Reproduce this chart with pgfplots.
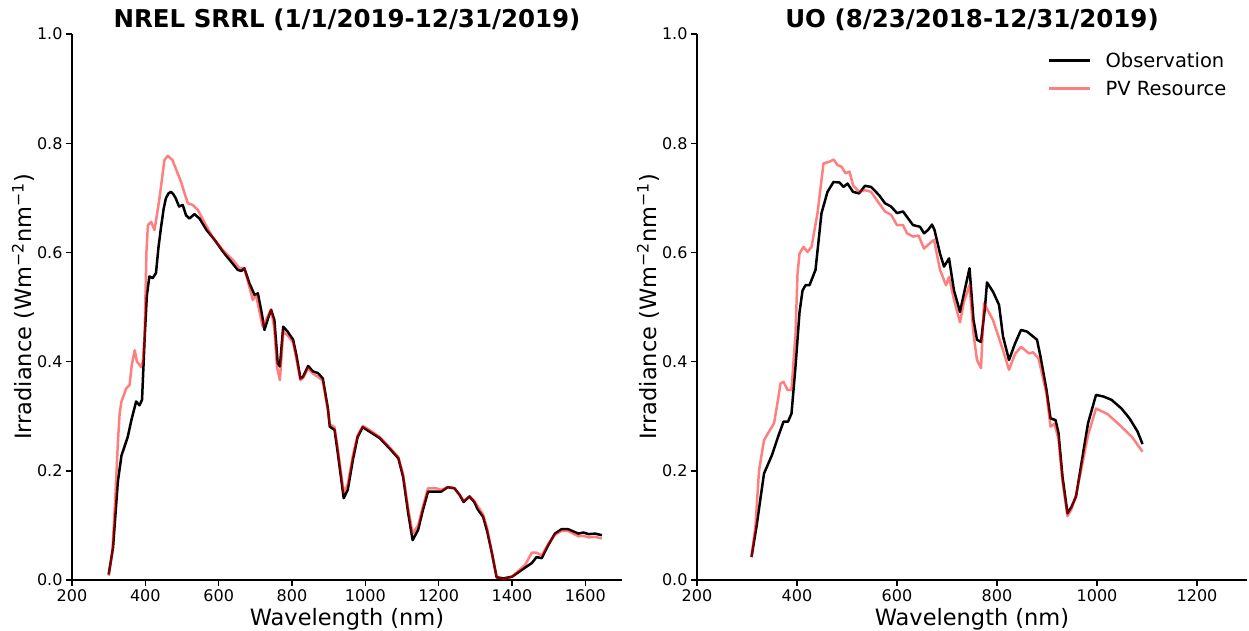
\documentclass[border=0pt]{standalone}
\usepackage{fontspec}
\setmainfont{DejaVu Sans}
\usepackage{pgfplots}
\pgfplotsset{compat=1.18}

% observation / pv resource, left panel (NREL SRRL)
\pgfplotstableread{
nm v
300 0.010
312 0.060
325 0.180
335 0.228
352 0.262
362 0.293
375 0.327
384 0.320
391 0.330
398 0.440
404 0.520
411 0.556
420 0.553
429 0.562
436 0.610
443 0.647
450 0.680
456 0.699
463 0.708
470 0.711
477 0.706
483 0.699
492 0.684
502 0.687
511 0.668
520 0.662
534 0.670
548 0.662
567 0.641
589 0.623
612 0.601
634 0.583
652 0.568
662 0.566
670 0.571
684 0.543
698 0.522
707 0.525
717 0.490
725 0.458
735 0.480
743 0.495
752 0.476
761 0.397
767 0.391
776 0.464
788 0.455
803 0.440
812 0.412
823 0.369
830 0.372
844 0.392
857 0.382
871 0.379
884 0.369
898 0.314
903 0.281
916 0.275
925 0.232
941 0.150
952 0.165
966 0.220
979 0.262
993 0.280
1011 0.272
1039 0.260
1066 0.241
1090 0.223
1103 0.189
1117 0.122
1129 0.073
1144 0.092
1157 0.128
1171 0.162
1193 0.162
1207 0.162
1225 0.170
1243 0.168
1257 0.156
1268 0.143
1284 0.153
1297 0.143
1306 0.130
1321 0.116
1332 0.090
1345 0.050
1358 0.005
1377 0.003
1400 0.006
1413 0.012
1436 0.023
1454 0.031
1467 0.042
1481 0.040
1499 0.064
1517 0.085
1535 0.093
1553 0.093
1567 0.089
1581 0.085
1595 0.087
1609 0.084
1627 0.085
1645 0.082
}\srrlobs

\pgfplotstableread{
nm v
300 0.008
310 0.050
318 0.150
325 0.250
330 0.306
335 0.327
348 0.351
357 0.357
363 0.394
371 0.421
377 0.400
389 0.390
393 0.400
398 0.446
403 0.600
407 0.650
416 0.656
425 0.641
438 0.696
452 0.769
461 0.777
474 0.769
488 0.745
497 0.730
507 0.708
516 0.690
529 0.687
543 0.678
562 0.654
585 0.626
612 0.604
639 0.586
657 0.571
670 0.571
679 0.549
693 0.513
702 0.522
720 0.464
743 0.495
752 0.460
759 0.390
767 0.366
776 0.455
788 0.448
803 0.435
812 0.405
823 0.366
830 0.370
844 0.388
857 0.378
871 0.372
884 0.365
898 0.310
903 0.285
916 0.280
925 0.240
941 0.160
952 0.175
966 0.228
979 0.265
993 0.282
1011 0.275
1039 0.262
1066 0.243
1090 0.225
1103 0.193
1117 0.130
1129 0.085
1144 0.100
1157 0.135
1171 0.168
1193 0.168
1207 0.165
1225 0.170
1243 0.168
1257 0.156
1268 0.145
1284 0.153
1297 0.145
1321 0.120
1332 0.095
1345 0.050
1358 0.005
1377 0.002
1400 0.006
1413 0.014
1436 0.028
1454 0.050
1467 0.050
1481 0.045
1499 0.066
1517 0.083
1535 0.090
1553 0.090
1567 0.085
1581 0.080
1595 0.081
1609 0.078
1627 0.079
1645 0.076
}\srrlpv

% right panel (UO)
\pgfplotstableread{
nm v
309 0.042
319 0.098
334 0.195
350 0.229
362 0.262
373 0.290
382 0.290
389 0.305
397 0.391
405 0.490
411 0.530
417 0.540
425 0.540
437 0.568
449 0.672
461 0.711
473 0.729
485 0.728
493 0.720
501 0.726
512 0.711
524 0.708
536 0.722
548 0.720
564 0.705
576 0.690
588 0.684
600 0.672
612 0.675
620 0.665
632 0.650
646 0.647
654 0.635
662 0.641
670 0.651
675 0.641
686 0.598
694 0.574
704 0.589
714 0.530
726 0.491
734 0.525
745 0.571
753 0.476
760 0.440
768 0.436
776 0.500
780 0.545
792 0.528
804 0.504
812 0.446
824 0.403
836 0.433
848 0.458
860 0.455
868 0.449
880 0.440
887 0.409
899 0.348
907 0.296
917 0.293
923 0.269
931 0.189
941 0.122
949 0.134
958 0.153
970 0.220
982 0.287
998 0.339
1013 0.336
1029 0.330
1049 0.314
1065 0.296
1081 0.272
1091 0.249
}\uoobs

\pgfplotstableread{
nm v
309 0.042
317 0.100
324 0.200
334 0.256
346 0.275
354 0.287
362 0.330
367 0.360
373 0.363
381 0.348
389 0.348
397 0.452
401 0.560
405 0.598
413 0.610
421 0.601
429 0.610
441 0.672
453 0.763
465 0.766
473 0.770
481 0.760
489 0.757
497 0.745
505 0.748
512 0.723
524 0.711
536 0.714
548 0.711
564 0.690
576 0.675
588 0.669
600 0.650
612 0.650
620 0.635
632 0.629
643 0.631
654 0.607
666 0.617
674 0.623
686 0.568
698 0.540
704 0.555
714 0.513
726 0.472
734 0.510
745 0.540
753 0.450
760 0.403
768 0.388
774 0.507
792 0.476
812 0.421
824 0.385
836 0.414
848 0.427
864 0.415
872 0.417
883 0.406
899 0.341
907 0.281
915 0.286
923 0.258
931 0.180
941 0.117
949 0.130
958 0.155
970 0.210
982 0.265
998 0.314
1021 0.304
1045 0.284
1070 0.262
1091 0.235
}\uopv

\pgfplotsset{
  spec/.style={
    scale only axis, width=550pt, height=546pt,
    ymin=0, ymax=1, ytick={0,0.2,0.4,0.6,0.8,1},
    axis x line*=bottom, axis y line*=left,
    axis line style={line width=2.4pt, -},
    tick align=outside, major tick length=6pt,
    every tick/.style={black, line width=1.4pt},
    tick label style={font=\fontsize{16}{19}\selectfont},
    /pgf/number format/assume math mode=true,
    yticklabel style={/pgf/number format/.cd, fixed, fixed zerofill, precision=1},
    xticklabel style={/pgf/number format/1000 sep={}},
    label style={font=\fontsize{22.5}{27}\selectfont},
    ylabel style={yshift=-4pt},
    title style={font=\fontsize{24.5}{29}\selectfont\bfseries, inner sep=0pt, yshift=-3pt},
    xlabel={Wavelength (nm)},
    ylabel={Irradiance (Wm\textsuperscript{−2}nm\textsuperscript{−1})},
  },
  obs/.style={black, line width=2.5pt, line join=round},
  pv/.style={red, opacity=0.5, line width=2.5pt, line join=round},
}

\begin{document}
\begin{tikzpicture}
\path[use as bounding box] (-72pt,-50pt) rectangle (1177pt,580pt);

\begin{axis}[spec,
  xmin=200, xmax=1700, xtick={200,400,...,1600},
  title={NREL SRRL (1/1/2019-12/31/2019)}]
\addplot[obs] table[x=nm, y=v] {\srrlobs};
\addplot[pv] table[x=nm, y=v] {\srrlpv};
\end{axis}

\begin{axis}[spec, at={(625pt,0pt)}, anchor=south west,
  xmin=200, xmax=1300, xtick={200,400,...,1200},
  title={UO (8/23/2018-12/31/2019)},
  legend cell align=left,
  legend image code/.code={\draw[#1] (0pt,0pt) -- (41pt,0pt);},
  legend style={draw=none, fill=none, at={(0.97,0.972)}, anchor=north east,
    font=\fontsize{19.5}{23}\selectfont, row sep=10pt,
    nodes={inner sep=1pt},
    /tikz/every odd column/.append style={column sep=13pt}}]
\addplot[obs] table[x=nm, y=v] {\uoobs};
\addlegendentry{Observation}
\addplot[pv] table[x=nm, y=v] {\uopv};
\addlegendentry{PV Resource}
\end{axis}
\end{tikzpicture}
\end{document}
